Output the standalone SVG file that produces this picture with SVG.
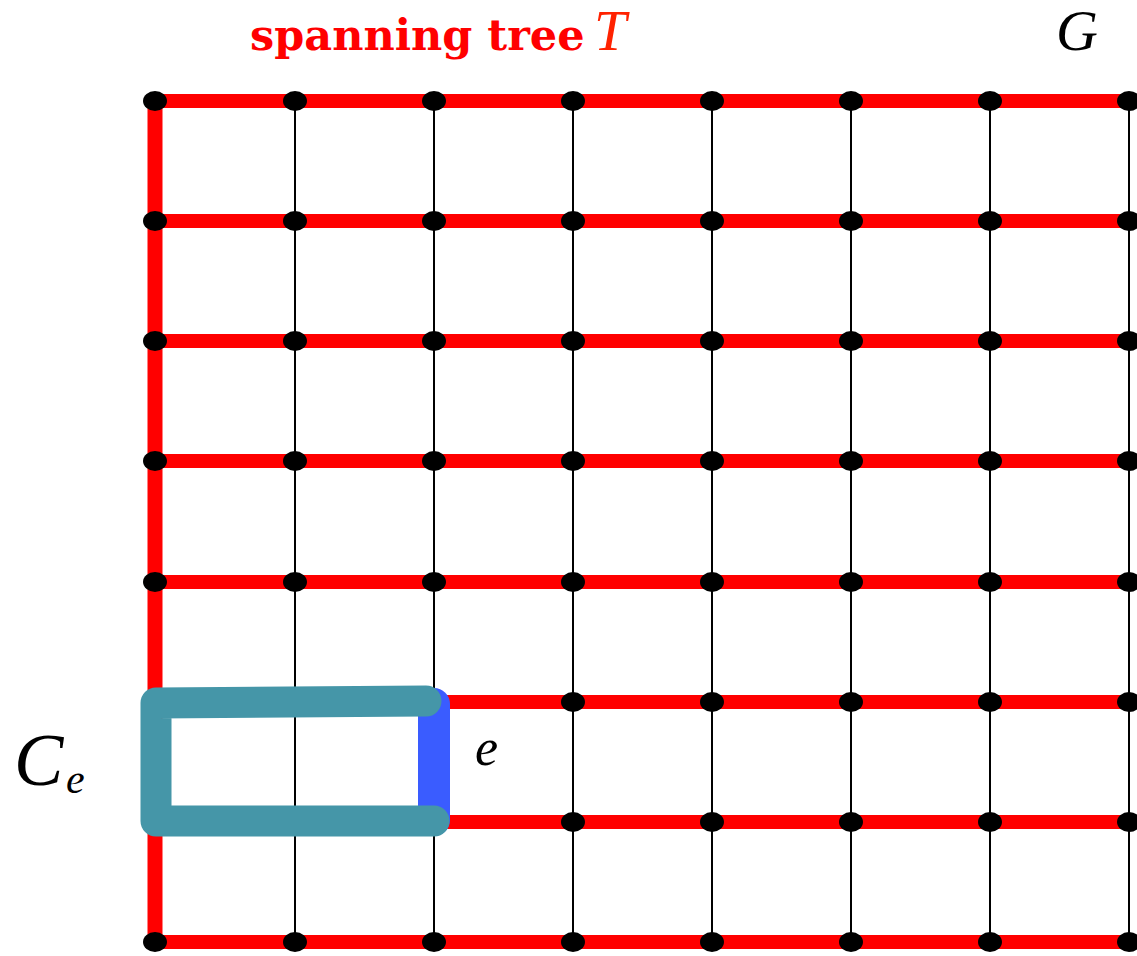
<svg xmlns="http://www.w3.org/2000/svg" width="1137" height="956" viewBox="0 0 1137 956">
<style>
.tree{stroke:#ff0000;stroke-width:14;fill:none}
.non{stroke:#000;stroke-width:2;fill:none}
.node{fill:#000}
.math{font-family:"Liberation Serif",serif;font-style:italic}
</style>
<rect width="1137" height="956" fill="#fff"/>
<g id="connectors">
<g class="non">
<line x1="295" y1="101" x2="295" y2="942"/>
<line x1="434" y1="101" x2="434" y2="942"/>
<line x1="573" y1="101" x2="573" y2="942"/>
<line x1="712" y1="101" x2="712" y2="942"/>
<line x1="851" y1="101" x2="851" y2="942"/>
<line x1="990" y1="101" x2="990" y2="942"/>
<line x1="1129" y1="101" x2="1129" y2="942"/>
</g>
<g class="tree">
<line x1="155" y1="101" x2="155" y2="942" stroke-width="15"/>
<line x1="155" y1="101" x2="1137" y2="101"/>
<line x1="155" y1="221" x2="1137" y2="221"/>
<line x1="155" y1="341" x2="1137" y2="341"/>
<line x1="155" y1="461" x2="1137" y2="461"/>
<line x1="155" y1="582" x2="1137" y2="582"/>
<line x1="155" y1="702" x2="1137" y2="702"/>
<line x1="155" y1="822" x2="1137" y2="822"/>
<line x1="155" y1="942" x2="1137" y2="942"/>
</g>
</g>
<g id="nodes" class="node">
<ellipse cx="155" cy="101" rx="12" ry="10"/><ellipse cx="295" cy="101" rx="12" ry="10"/><ellipse cx="434" cy="101" rx="12" ry="10"/><ellipse cx="573" cy="101" rx="12" ry="10"/><ellipse cx="712" cy="101" rx="12" ry="10"/><ellipse cx="851" cy="101" rx="12" ry="10"/><ellipse cx="990" cy="101" rx="12" ry="10"/><ellipse cx="1129" cy="101" rx="12" ry="10"/>
<ellipse cx="155" cy="221" rx="12" ry="10"/><ellipse cx="295" cy="221" rx="12" ry="10"/><ellipse cx="434" cy="221" rx="12" ry="10"/><ellipse cx="573" cy="221" rx="12" ry="10"/><ellipse cx="712" cy="221" rx="12" ry="10"/><ellipse cx="851" cy="221" rx="12" ry="10"/><ellipse cx="990" cy="221" rx="12" ry="10"/><ellipse cx="1129" cy="221" rx="12" ry="10"/>
<ellipse cx="155" cy="341" rx="12" ry="10"/><ellipse cx="295" cy="341" rx="12" ry="10"/><ellipse cx="434" cy="341" rx="12" ry="10"/><ellipse cx="573" cy="341" rx="12" ry="10"/><ellipse cx="712" cy="341" rx="12" ry="10"/><ellipse cx="851" cy="341" rx="12" ry="10"/><ellipse cx="990" cy="341" rx="12" ry="10"/><ellipse cx="1129" cy="341" rx="12" ry="10"/>
<ellipse cx="155" cy="461" rx="12" ry="10"/><ellipse cx="295" cy="461" rx="12" ry="10"/><ellipse cx="434" cy="461" rx="12" ry="10"/><ellipse cx="573" cy="461" rx="12" ry="10"/><ellipse cx="712" cy="461" rx="12" ry="10"/><ellipse cx="851" cy="461" rx="12" ry="10"/><ellipse cx="990" cy="461" rx="12" ry="10"/><ellipse cx="1129" cy="461" rx="12" ry="10"/>
<ellipse cx="155" cy="582" rx="12" ry="10"/><ellipse cx="295" cy="582" rx="12" ry="10"/><ellipse cx="434" cy="582" rx="12" ry="10"/><ellipse cx="573" cy="582" rx="12" ry="10"/><ellipse cx="712" cy="582" rx="12" ry="10"/><ellipse cx="851" cy="582" rx="12" ry="10"/><ellipse cx="990" cy="582" rx="12" ry="10"/><ellipse cx="1129" cy="582" rx="12" ry="10"/>
<ellipse cx="155" cy="702" rx="12" ry="10"/><ellipse cx="295" cy="702" rx="12" ry="10"/><ellipse cx="434" cy="702" rx="12" ry="10"/><ellipse cx="573" cy="702" rx="12" ry="10"/><ellipse cx="712" cy="702" rx="12" ry="10"/><ellipse cx="851" cy="702" rx="12" ry="10"/><ellipse cx="990" cy="702" rx="12" ry="10"/><ellipse cx="1129" cy="702" rx="12" ry="10"/>
<ellipse cx="155" cy="822" rx="12" ry="10"/><ellipse cx="295" cy="822" rx="12" ry="10"/><ellipse cx="434" cy="822" rx="12" ry="10"/><ellipse cx="573" cy="822" rx="12" ry="10"/><ellipse cx="712" cy="822" rx="12" ry="10"/><ellipse cx="851" cy="822" rx="12" ry="10"/><ellipse cx="990" cy="822" rx="12" ry="10"/><ellipse cx="1129" cy="822" rx="12" ry="10"/>
<ellipse cx="155" cy="942" rx="12" ry="10"/><ellipse cx="295" cy="942" rx="12" ry="10"/><ellipse cx="434" cy="942" rx="12" ry="10"/><ellipse cx="573" cy="942" rx="12" ry="10"/><ellipse cx="712" cy="942" rx="12" ry="10"/><ellipse cx="851" cy="942" rx="12" ry="10"/><ellipse cx="990" cy="942" rx="12" ry="10"/><ellipse cx="1129" cy="942" rx="12" ry="10"/>
</g>
<g id="edge-e">
<path d="M434,704 L434,820" stroke="#3a5cff" stroke-width="32" stroke-linecap="round" fill="none"/>
</g>
<g id="cycle-Ce">
<path d="M426,701 L156,703 L156,821 L434,821" stroke="#4596a8" stroke-width="31" stroke-linecap="round" stroke-linejoin="round" fill="none"/>
</g>
<g id="labels">
<text x="250" y="50" font-family="DejaVu Serif,serif" font-weight="bold" font-size="43" fill="#ff0000">spanning tree</text>
<text x="594" y="50" class="math" font-size="58" fill="#ff2200">T</text>
<text x="1056" y="50" class="math" font-size="58" fill="#000">G</text>
<text x="14" y="785" class="math" font-size="74" fill="#000">C</text>
<text x="66" y="793" class="math" font-size="42" fill="#000">e</text>
<text x="475" y="765" class="math" font-size="52" fill="#000">e</text>
</g>
</svg>
